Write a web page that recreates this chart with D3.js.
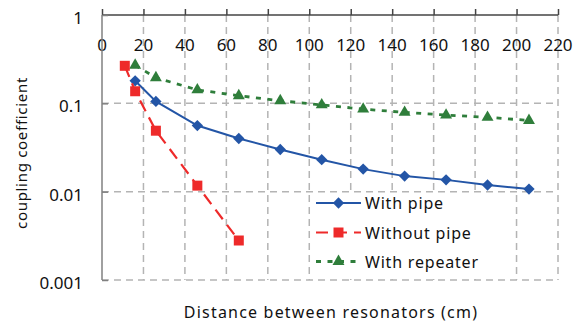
<!DOCTYPE html>
<html>
<head>
<meta charset="utf-8">
<script src="https://cdn.jsdelivr.net/npm/d3@7"></script>
<style>
  html, body { margin: 0; padding: 0; background: #fff; }
  svg { display: block; }
  text { font-family: "Noto Sans", "Noto Sans CJK JP", sans-serif; fill: #111; }
</style>
</head>
<body>
<div id="chart"></div>
<script>
// data
const distances = [16, 26, 46, 66, 86, 106, 126, 146, 166, 186, 206];
const withPipe = [0.18, 0.105, 0.056, 0.040, 0.030, 0.023, 0.018, 0.015, 0.0136, 0.0119, 0.0107];
const withoutPipeDist = [11, 16, 26, 46, 66];
const withoutPipe = [0.266, 0.137, 0.049, 0.0117, 0.0028];
const withRepeater = [0.27, 0.195, 0.142, 0.122, 0.107, 0.096, 0.086, 0.079, 0.0737, 0.0695, 0.064];
const xTicks = [0, 20, 40, 60, 80, 100, 120, 140, 160, 180, 200, 220];
const yTicks = [1, 0.1, 0.01, 0.001];
const yTickLabels = ["1", "0.1", "0.01", "0.001"];

const W = 582, H = 322;
const plot = { left: 102, right: 558, top: 15, bottom: 280 };

const svg = d3.select("#chart").append("svg")
  .attr("width", W).attr("height", H);

const x = d3.scaleLinear().domain([0, 220]).range([plot.left, plot.right]);
const y = d3.scaleLog().domain([0.001, 1]).range([plot.bottom, plot.top]);

const gridColor = "#b4b4b4";

// grid (dashed)
svg.append("g").selectAll("line")
  .data(xTicks.filter((d) => d > 0))
  .join("line")
  .attr("x1", (d) => x(d)).attr("x2", (d) => x(d))
  .attr("y1", plot.top).attr("y2", plot.bottom)
  .attr("stroke", gridColor).attr("stroke-width", 1.5)
  .attr("stroke-dasharray", "7,5");

svg.append("g").selectAll("line")
  .data(yTicks.filter((d) => d < 1))
  .join("line")
  .attr("x1", plot.left).attr("x2", plot.right)
  .attr("y1", (d) => y(d)).attr("y2", (d) => y(d))
  .attr("stroke", gridColor).attr("stroke-width", 1.5)
  .attr("stroke-dasharray", "7,5");

// top axis, ticks pointing outward
const xAxis = d3.axisTop(x).tickValues(xTicks).tickSize(6).tickFormat("");
const gx = svg.append("g").attr("transform", `translate(0,${plot.top})`).call(xAxis);
gx.select(".domain").attr("stroke", "#444").attr("stroke-width", 1.5).attr("d", `M${plot.left},0H${plot.right}`);
gx.selectAll(".tick line").attr("stroke", "#444").attr("stroke-width", 1.5);

// x tick labels sit inside the plot, under the top axis
svg.append("g").selectAll("text")
  .data(xTicks)
  .join("text")
  .attr("x", (d) => x(d))
  .attr("y", 51)
  .attr("text-anchor", "middle")
  .attr("font-size", 17)
  .text((d) => d);

// left axis
const yAxis = d3.axisRight(y).tickValues(yTicks).tickSize(6).tickFormat("");
const gy = svg.append("g").attr("transform", `translate(${plot.left},0)`).call(yAxis);
gy.select(".domain").attr("stroke", "#808080").attr("stroke-width", 1.5).attr("d", `M0,${plot.top}V${plot.bottom}`);
gy.selectAll(".tick line").attr("stroke", "#808080").attr("stroke-width", 1.5);

svg.append("g").selectAll("text")
  .data(yTicks)
  .join("text")
  .attr("x", 83)
  .attr("y", (d) => y(d) + 9)
  .attr("text-anchor", "end")
  .attr("font-size", 17)
  .text((d, i) => yTickLabels[i]);

// axis titles
svg.append("text")
  .attr("transform", `translate(27,153) rotate(-90)`)
  .attr("text-anchor", "middle")
  .attr("font-size", 15)
  .attr("letter-spacing", 0.7)
  .text("coupling coefficient");

svg.append("text")
  .attr("x", 331).attr("y", 318)
  .attr("text-anchor", "middle")
  .attr("font-size", 16)
  .attr("letter-spacing", 1.2)
  .text("Distance between resonators (cm)");

// series
const series = [
  { name: "With pipe", xs: distances, ys: withPipe, color: "#2355a6", dash: null, width: 2, symbol: "diamond" },
  { name: "Without pipe", xs: withoutPipeDist, ys: withoutPipe, color: "#ee2a2a", dash: "12,7", width: 2.2, symbol: "square" },
  { name: "With repeater", xs: distances, ys: withRepeater, color: "#2f7e3b", dash: "5,6.5", width: 2.8, symbol: "triangle" },
];

const line = d3.line().x((d) => x(d[0])).y((d) => y(d[1]));

function drawMarker(sel, kind, color) {
  if (kind === "diamond") {
    sel.append("path")
      .attr("d", d3.symbol(d3.symbolSquare, 64)())
      .attr("transform", "rotate(45)")
      .attr("fill", color);
  } else if (kind === "square") {
    sel.append("path").attr("d", d3.symbol(d3.symbolSquare, 100)()).attr("fill", color);
  } else {
    sel.append("path").attr("d", d3.symbol(d3.symbolTriangle, 62)()).attr("fill", color);
  }
}

// draw order: repeater, pipe, without pipe
[series[2], series[0], series[1]].forEach((s) => {
  const pts = s.xs.map((d, i) => [d, s.ys[i]]);
  svg.append("path")
    .datum(pts)
    .attr("d", line)
    .attr("fill", "none")
    .attr("stroke", s.color)
    .attr("stroke-width", s.width)
    .attr("stroke-dasharray", s.dash);
  svg.append("g").selectAll("g")
    .data(pts)
    .join("g")
    .attr("transform", (d) => `translate(${x(d[0])},${y(d[1])})`)
    .each(function () { drawMarker(d3.select(this), s.symbol, s.color); });
});

// legend
const legend = svg.append("g");
legend.append("rect")
  .attr("x", 311).attr("y", 193).attr("width", 177).attr("height", 84)
  .attr("fill", "#fff");

const rows = legend.selectAll("g.row")
  .data(series)
  .join("g")
  .attr("class", "row")
  .attr("transform", (d, i) => `translate(316,${[203, 232.5, 261.5][i]})`);

rows.append("line")
  .attr("x1", 0).attr("x2", 45).attr("y1", 0).attr("y2", 0)
  .attr("stroke", (d) => d.color)
  .attr("stroke-width", (d) => d.width)
  .attr("stroke-dasharray", (d) => d.dash);

rows.each(function (d) {
  const m = d3.select(this).append("g").attr("transform", "translate(22.5,0)");
  drawMarker(m, d.symbol, d.color);
});

rows.append("text")
  .attr("x", 49).attr("y", 6)
  .attr("font-size", 16)
  .attr("letter-spacing", 0.8)
  .text((d) => d.name);
</script>
</body>
</html>
